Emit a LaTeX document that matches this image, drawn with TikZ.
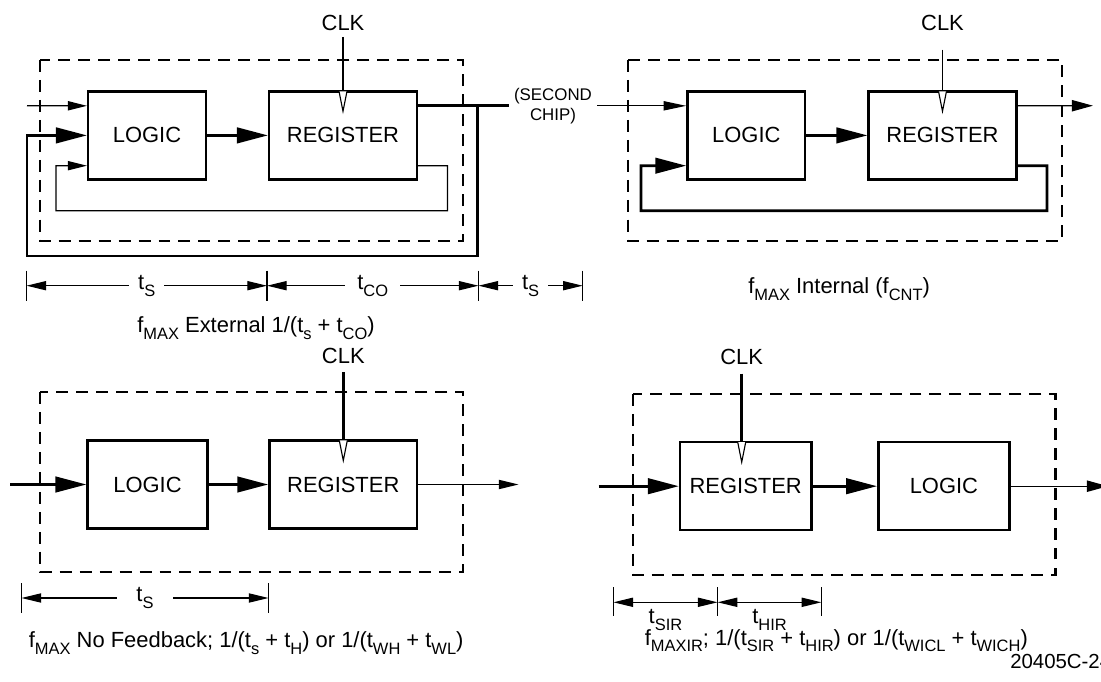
\documentclass[tikz,border=0pt]{standalone}
\usepackage{fontspec}
\setmainfont{Liberation Sans}
\usepackage{graphicx}
\usetikzlibrary{arrows.meta,calc,positioning}
\newcommand{\lo}[1]{\raisebox{-0.3em}{\scalebox{0.75}{#1}}}

\begin{document}
\begin{tikzpicture}[
      x=0.025cm, y=-0.025cm,
      txt/.style={font=\fontsize{15.6}{18}\selectfont, inner sep=0pt},
      blk/.style={draw, line width=1.8pt, minimum height=2.2cm,
                  font=\fontsize{15.6}{18}\selectfont, inner sep=0pt},
      frame/.style={line width=1.8pt, dash pattern=on 8.5pt off 5.7pt},
      bus/.style={line width=2pt},
      sig/.style={line width=0.9pt},
      big/.style={-{Triangle[length=22pt,width=11pt]}},
      small/.style={-{Triangle[length=13.5pt,width=6.5pt]}},
      dim/.style={sig, {Triangle[length=14pt,width=6.5pt]}-{Triangle[length=14pt,width=6.5pt]}},
      gap/.style={txt, fill=white, inner xsep=6.5pt},
      clktri/.style={line width=0.8pt, fill=white}
    ]
      \useasboundingbox (0,0) rectangle (1101,682);

      % external: two chips
      \draw[frame] (40,60) rectangle (463,241);
      \node[blk, minimum width=2.94cm] (logA) at (147,135.4) {LOGIC};
      \node[blk, minimum width=3.69cm] (regA) at (343,135.4) {REGISTER};
      \node[txt] (clkA) at (343,22.7) {CLK};
      \draw[sig, shorten <=4.3pt] (clkA) -- (regA.north);
      \draw[clktri] ($(regA.north)+(-4,1.2)$) -- ++(4,20) -- ++(4,-20);
      \draw[bus, big] (logA) -- (regA);
      \node[font=\fontsize{12}{14.2}\selectfont, align=center, inner xsep=3.5pt, inner ysep=0pt] (chip) at (553,106) {(SECOND\\CHIP)};
      \coordinate (outA) at ($(regA.north east)+(0,15.7)$);
      \draw[bus] (outA) -- (outA -| chip.west);
      \draw[bus, big] (477.5,105.7) |- (27,256) |- (logA.west);
      \draw[sig, small] (27,105.7) -- ($(logA.north west)+(0,15.7)$);
      \draw[sig, small] ($(regA.south east)+(0,-15)$) -| (447.5,210.7) -| (56,165.7) -- ($(logA.south west)+(0,-15)$);
      \coordinate (dA0) at (26.5,285.7);
      \coordinate (dA1) at (267,285.7);
      \coordinate (dA2) at (478.5,285.7);
      \coordinate (dA3) at (582.7,285.7);
      \draw[sig] ($(dA0)+(0,-15)$) -- ($(dA0)+(0,15)$) ($(dA1)+(0,-15)$) -- ($(dA1)+(0,15)$)
                 ($(dA2)+(0,-15)$) -- ($(dA2)+(0,15)$) ($(dA3)+(0,-15)$) -- ($(dA3)+(0,15)$);
      \draw[dim] (dA0) -- node[gap]{t\lo{S}} (dA1);
      \draw[dim] (dA1) -- node[gap, inner xsep=8.5pt]{t\lo{CO}} (dA2);
      \draw[dim] (dA2) -- node[gap]{t\lo{S}} (dA3);
      \node[txt, anchor=base] (capA) at (256,333) {f\lo{MAX} External 1/(t\lo{s} + t\lo{CO})};

      % internal feedback
      \draw[frame] (628,60) rectangle (1062,241);
      \node[blk, minimum width=2.94cm] (logB) at (746.3,135.4) {LOGIC};
      \node[blk, minimum width=3.69cm] (regB) at (942.5,135.4) {REGISTER};
      \node[txt] (clkB) at (942.5,22.7) {CLK};
      \draw[sig, shorten <=13.5pt] (clkB) -- (regB.north);
      \draw[clktri] ($(regB.north)+(-4,1.2)$) -- ++(4,20) -- ++(4,-20);
      \draw[bus, big] (logB) -- (regB);
      \draw[sig, -{Triangle[length=16pt,width=6.5pt]}] (outA -| chip.east) -- (outA -| logB.west);
      \coordinate (endB) at (1093,105.7);
      \draw[sig, -{Triangle[length=15pt,width=8pt]}] ($(regB.north east)+(0,15.7)$) -- (endB);
      \draw[bus, big] ($(regB.south east)+(0,-15)$) -| (1047,210.7) -| (641,165.7) -- ($(logB.south west)+(0,-15)$);
      \node[txt, anchor=base west] (capB) at (748,294) {f\lo{MAX} Internal (f\lo{CNT})};

      % no feedback
      \draw[frame] (40,392) rectangle (463,572);
      \node[blk, minimum width=2.99cm] (logC) at (147.5,484.5) {LOGIC};
      \node[blk, minimum width=3.69cm] (regC) at (343.3,484.5) {REGISTER};
      \node[txt] (clkC) at (343.3,356) {CLK};
      \draw[bus, shorten <=6pt] (clkC) -- (regC.north);
      \draw[clktri] ($(regC.north)+(-4,1.2)$) -- ++(4,20) -- ++(4,-20);
      \coordinate (inC) at (10,484.5);
      \coordinate (endC) at (518.6,484.5);
      \draw[bus, big] (inC) -- (logC);
      \draw[bus, big] (logC) -- (regC);
      \draw[sig, -{Triangle[length=14pt,width=6.5pt]}] (regC) -- (endC);
      \coordinate (dC0) at (21.4,598);
      \coordinate (dC1) at (268.6,598);
      \draw[sig] ($(dC0)+(0,-14.5)$) -- ($(dC0)+(0,14.5)$) ($(dC1)+(0,-14.5)$) -- ($(dC1)+(0,14.5)$);
      \draw[dim] (dC0) -- node[gap, inner xsep=14pt]{t\lo{S}} (dC1);
      \node[txt, anchor=base west] (capC) at (28.6,648) {f\lo{MAX} No Feedback; 1/(t\lo{s} + t\lo{H}) or 1/(t\lo{WH} + t\lo{WL})};

      % input register
      \draw[frame] (633,394) rectangle (1055.5,575);
      \node[blk, minimum width=3.28cm] (regD) at (745.7,486.2) {REGISTER};
      \node[blk, minimum width=3.28cm] (logD) at (943.9,486.2) {LOGIC};
      \node[txt] (clkD) at (741.7,356.7) {CLK};
      \draw[bus, shorten <=6.4pt] (clkD) -- (clkD |- regD.north);
      \draw[clktri] ($(clkD |- regD.north)+(-4,1.2)$) -- ++(4,20) -- ++(4,-20);
      \coordinate (inD) at (598.6,486.2);
      \coordinate (endD) at (1108,486.2);
      \draw[bus, big] (inD) -- (regD);
      \draw[bus, big] (regD) -- (logD);
      \draw[sig, -{Triangle[length=15pt,width=8pt]}] (logD) -- (endD);
      \coordinate (dD0) at (613.4,602.3);
      \coordinate (dD1) at (717.6,602.3);
      \coordinate (dD2) at (821.4,602.3);
      \draw[sig] ($(dD0)+(0,-15)$) -- ($(dD0)+(0,13.5)$) ($(dD1)+(0,-15)$) -- ($(dD1)+(0,13.5)$)
                 ($(dD2)+(0,-15)$) -- ($(dD2)+(0,13.5)$);
      \draw[dim] (dD0) -- node[txt, below=4.5pt]{t\lo{SIR}} (dD1);
      \draw[dim] (dD1) -- node[txt, below=4.5pt]{t\lo{HIR}} (dD2);
      \node[txt, anchor=base west] (capD) at (644.5,645) {f\lo{MAXIR}; 1/(t\lo{SIR} + t\lo{HIR}) or 1/(t\lo{WICL} + t\lo{WICH})};
      \node[font=\fontsize{14.5}{17}\selectfont, inner sep=0pt, anchor=base west] (tag) at (1010,668) {20405C-24};
    \end{tikzpicture}
\end{document}
